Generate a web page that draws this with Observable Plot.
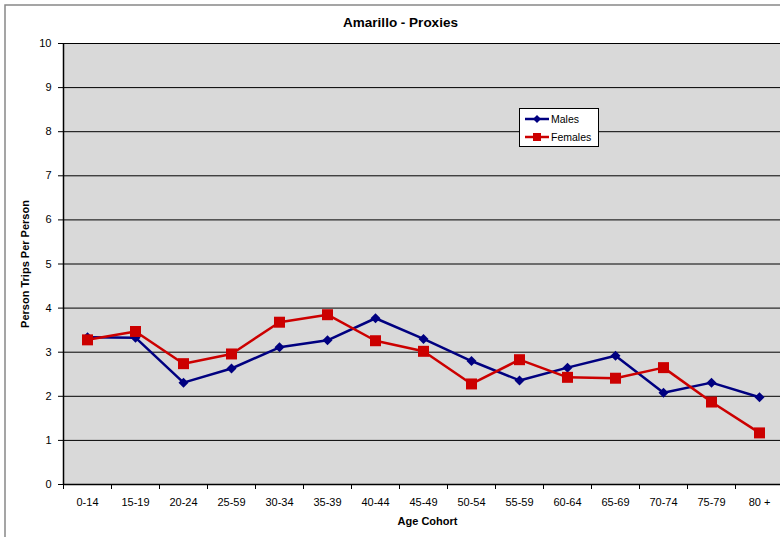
<!DOCTYPE html>
<html>
<head>
<meta charset="utf-8">
<script src="https://cdn.jsdelivr.net/npm/d3@7"></script>
<script src="https://cdn.jsdelivr.net/npm/@observablehq/plot@0.6"></script>
<style>
  html, body { margin: 0; padding: 0; background: #fff; overflow: hidden; }
  #chart { width: 780px; height: 537px; overflow: hidden; position: relative; }
  #chart svg { display: block; max-width: none !important; width: 800px; height: 537px; }
</style>
</head>
<body>
<div id="chart"></div>
<script>
// Person trips per person by age cohort, Amarillo proxy survey
const ageCohorts = ["0-14", "15-19", "20-24", "25-59", "30-34", "35-39", "40-44", "45-49",
                    "50-54", "55-59", "60-64", "65-69", "70-74", "75-79", "80 +"];
const males   = [3.34, 3.33, 2.31, 2.63, 3.11, 3.27, 3.77, 3.30, 2.80, 2.36, 2.65, 2.92, 2.08, 2.31, 1.98];
const females = [3.28, 3.47, 2.74, 2.96, 3.68, 3.85, 3.26, 3.02, 2.28, 2.83, 2.43, 2.41, 2.65, 1.87, 1.17];
const yTicks = d3.range(0, 11);

const seriesNames = ["Males", "Females"];
const seriesColors = ["#000080", "#cc0000"];

const maleRows = ageCohorts.map((c, i) => ({i, cohort: c, value: males[i]}));
const femaleRows = ageCohorts.map((c, i) => ({i, cohort: c, value: females[i]}));

// Square-on-point diamond marker
const diamond = {
  draw(context, size) {
    const h = Math.sqrt(size / Math.PI);
    context.moveTo(0, -h);
    context.lineTo(h, 0);
    context.lineTo(0, h);
    context.lineTo(-h, 0);
    context.closePath();
  }
};

const font = "'Liberation Sans', Arial, sans-serif";

const chart = Plot.plot({
  width: 800,
  height: 537,
  marginLeft: 63,
  marginRight: 17,
  marginTop: 43,
  marginBottom: 53,
  style: {fontFamily: font, fontSize: "11px", color: "#000", background: "transparent", maxWidth: "none"},
  x: {type: "linear", domain: [0, ageCohorts.length]},
  y: {domain: [0, 10]},
  marks: [
    Plot.frame({fill: "#d9d9d9", stroke: null}),
    Plot.gridY(yTicks.filter(d => d > 0), {stroke: "#000", strokeOpacity: 1, strokeWidth: 1}),
    Plot.ruleX([0], {stroke: "#000", strokeWidth: 1.5}),
    Plot.ruleY([0], {stroke: "#000", strokeWidth: 1.5}),
    Plot.axisY(yTicks, {tickSize: 5, tickPadding: 7, label: null, fontSize: 11, stroke: "#000"}),
    Plot.axisX(d3.range(0, ageCohorts.length + 1), {tickSize: 5, tickFormat: () => "", label: null, stroke: "#000"}),
    Plot.axisX(d3.range(ageCohorts.length).map(i => i + 0.5), {
      tickSize: 0, tickPadding: 14, label: null, fontSize: 11,
      tickFormat: d => ageCohorts[Math.floor(d)]
    }),
    Plot.line(maleRows, {x: d => d.i + 0.5, y: "value", stroke: seriesColors[0], strokeWidth: 2.5}),
    Plot.dot(maleRows, {x: d => d.i + 0.5, y: "value", fill: seriesColors[0], stroke: null, symbol: diamond, r: 5}),
    Plot.line(femaleRows, {x: d => d.i + 0.5, y: "value", stroke: seriesColors[1], strokeWidth: 2.5}),
    Plot.dot(femaleRows, {x: d => d.i + 0.5, y: "value", fill: seriesColors[1], stroke: null, symbol: "square", r: 6.2}),
    Plot.text(["Age Cohort"], {frameAnchor: "bottom", dy: 37, dx: 4, textAnchor: "middle", lineAnchor: "middle", fontWeight: "bold", fontSize: 11}),
    Plot.text(["Person Trips Per Person"], {frameAnchor: "left", dx: -38, rotate: -90, textAnchor: "middle", lineAnchor: "middle", fontWeight: "bold", fontSize: 11}),
    Plot.text(["Amarillo - Proxies"], {frameAnchor: "top", dy: -21, dx: -23, textAnchor: "middle", lineAnchor: "middle", fontWeight: "bold", fontSize: 13.5})
  ]
});

document.getElementById("chart").appendChild(chart);

const svg = d3.select(chart);

// Chart area border
svg.append("rect")
  .attr("x", 5).attr("y", 5).attr("width", 820).attr("height", 600)
  .attr("fill", "none").attr("stroke", "#888").attr("stroke-width", 1.5);

// Legend box
const legend = svg.append("g")
  .attr("font-family", font).attr("font-size", 10.5).attr("text-anchor", "start");
legend.append("rect")
  .attr("x", 519.5).attr("y", 108.5).attr("width", 79).attr("height", 38)
  .attr("fill", "#fff").attr("stroke", "#000").attr("stroke-width", 1);
seriesNames.forEach((name, k) => {
  const y = 119 + k * 18;
  legend.append("line")
    .attr("x1", 525).attr("x2", 549).attr("y1", y).attr("y2", y)
    .attr("stroke", seriesColors[k]).attr("stroke-width", 2.5);
  if (k === 0) {
    legend.append("path")
      .attr("d", d3.symbol(diamond, 16 * Math.PI)())
      .attr("transform", `translate(537,${y})`).attr("fill", seriesColors[k]);
  } else {
    legend.append("rect")
      .attr("x", 533).attr("y", y - 4).attr("width", 8).attr("height", 8)
      .attr("fill", seriesColors[k]);
  }
  legend.append("text")
    .attr("x", 551).attr("y", y).attr("dy", "0.35em").attr("fill", "#000").text(name);
});
</script>
</body>
</html>
